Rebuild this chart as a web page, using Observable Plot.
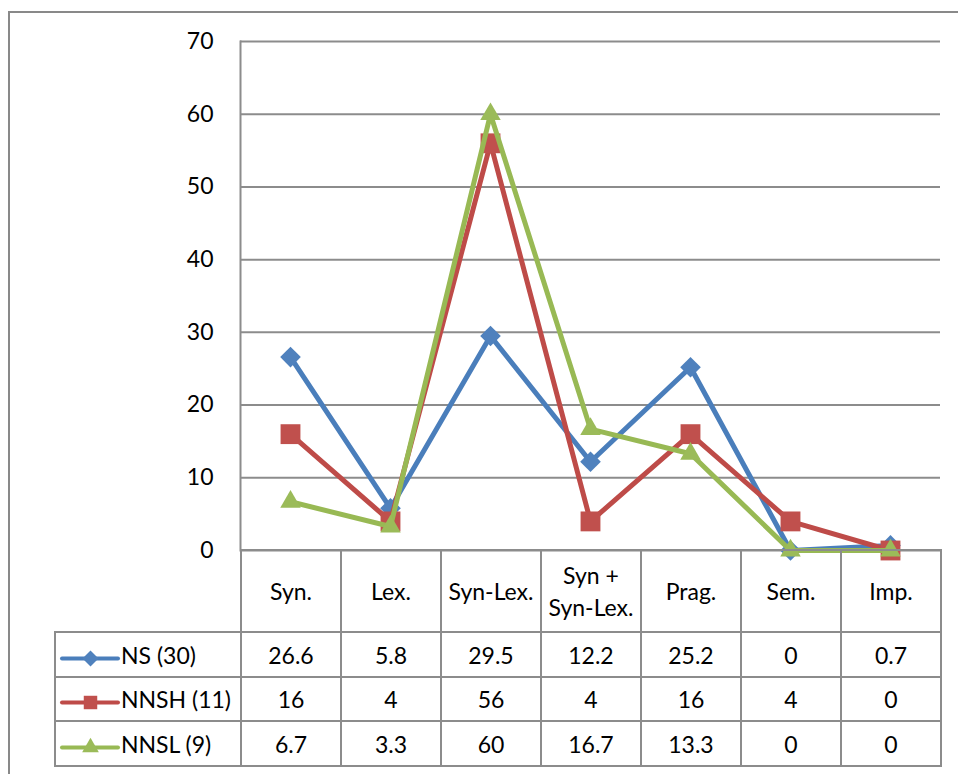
<!DOCTYPE html>
<html>
<head>
<meta charset="utf-8">
<script src="https://cdn.jsdelivr.net/npm/d3@7"></script>
<script src="https://cdn.jsdelivr.net/npm/@observablehq/plot@0.6"></script>
<style>
  html, body { margin: 0; padding: 0; background: #fff; }
  #wrap { position: relative; width: 958px; height: 774px; overflow: hidden; background: #fff; font-family: Lato, "Open Sans", sans-serif; }
  #chart { position: absolute; left: 0; top: 0; }
  #frame { position: absolute; left: 8px; top: 11px; width: 1200px; height: 1200px;
           border-left: 2px solid #898989; border-top: 2px solid #898989; pointer-events: none; }
  #table { position: absolute; border-collapse: collapse; table-layout: fixed; font-size: 23px; color: #000; }
  #table td { border: 2px solid #8c8c8c; text-align: center; padding: 0; white-space: pre-line; line-height: 32px; }
  #table td.blank { border-left: none; border-top: none; }
  #table td.series { text-align: left; padding-left: 6px; white-space: nowrap; }
  #table td.series svg { display: inline-block; vertical-align: middle; margin-right: 3px; }
</style>
</head>
<body>
<div id="wrap">
  <div id="chart"></div>
  <div id="frame"></div>
</div>
<script>
// Error categories (x axis / table columns)
const categories = ["Syn.", "Lex.", "Syn-Lex.", "Syn +\nSyn-Lex.", "Prag.", "Sem.", "Imp."];

// Series names
const seriesNames = ["NS (30)", "NNSH (11)", "NNSL (9)"];

// Percentages per category
const nsValues   = [26.6, 5.8, 29.5, 12.2, 25.2, 0, 0.7];
const nnshValues = [16, 4, 56, 4, 16, 4, 0];
const nnslValues = [6.7, 3.3, 60, 16.7, 13.3, 0, 0];

// Y axis ticks
const yTicks = [0, 10, 20, 30, 40, 50, 60, 70];

const seriesValues = [nsValues, nnshValues, nnslValues];
const lineColors   = ["#4a7ebb", "#be4b48", "#98b954"];
const markColors   = ["#4f81bd", "#c0504d", "#9bbb59"];
const symbols      = ["diamond2", "square", "triangle"];
const symbolR      = [9.3, 11.2, 7.6];
const keySymbolR   = [7.2, 7.6, 6.2];

const series = seriesNames.map((name, s) => ({
  name,
  lineColor: lineColors[s],
  markColor: markColors[s],
  symbol: symbols[s],
  r: symbolR[s],
  keyR: keySymbolR[s],
  rows: categories.map((category, i) => ({category, value: seriesValues[s][i]}))
}));

const gridColor = "#8c8c8c";

const chart = Plot.plot({
  width: 958,
  height: 552,
  marginTop: 41,
  marginLeft: 240,
  marginRight: 18,
  marginBottom: 2,
  style: {background: "transparent", fontFamily: "Lato, 'Open Sans', sans-serif", fontSize: "23px", color: "#000", overflow: "visible"},
  x: {type: "band", domain: categories, padding: 0, axis: null},
  y: {domain: [0, 70], ticks: yTicks, tickSize: 0, tickPadding: 27, label: null},
  marks: [
    Plot.ruleY(yTicks, {stroke: gridColor, strokeWidth: 2, strokeOpacity: 1}),
    Plot.frame({anchor: "left", stroke: gridColor, strokeWidth: 2, strokeOpacity: 1}),
    ...series.flatMap(s => [
      Plot.line(s.rows, {x: "category", y: "value", stroke: s.lineColor, strokeWidth: 5, strokeLinejoin: "round", strokeLinecap: "round"}),
      Plot.dot(s.rows, {x: "category", y: "value", symbol: () => s.symbol, r: s.r, fill: s.markColor, stroke: "none"})
    ])
  ]
});
document.getElementById("chart").append(chart);

// Data table under the plot, columns aligned with the band scale
const xScale = chart.scale("x");
const bandwidth = xScale.bandwidth;
const firstBand = xScale.apply(categories[0]);
const tableLeft = 54;

const table = d3.select("#wrap").append("table").attr("id", "table")
  .style("left", tableLeft + "px")
  .style("top", "549px")
  .style("width", (firstBand - tableLeft + bandwidth * categories.length) + "px");

const colgroup = table.append("colgroup");
colgroup.append("col").style("width", (firstBand - tableLeft) + "px");
categories.forEach(() => colgroup.append("col").style("width", bandwidth + "px"));

const header = table.append("tr").style("height", "82px");
header.append("td").attr("class", "blank");
categories.forEach(c => header.append("td").text(c));

const rowHeights = [45, 44, 45];
series.forEach((s, k) => {
  const tr = table.append("tr").style("height", rowHeights[k] + "px");
  const cell = tr.append("td").attr("class", "series");
  const key = Plot.plot({
    width: 56, height: 22, margin: 0, axis: null,
    x: {domain: [-1, 1]}, y: {domain: [-1, 1]},
    style: {background: "transparent", overflow: "visible"},
    marks: [
      Plot.ruleY([0], {stroke: s.lineColor, strokeWidth: 4, strokeLinecap: "round"}),
      Plot.dot([0], {x: 0, y: 0, symbol: () => s.symbol, r: s.keyR, fill: s.markColor})
    ]
  });
  cell.node().append(key);
  cell.append("span").text(s.name);
  s.rows.forEach(d => tr.append("td").text(String(d.value)));
});
</script>
</body>
</html>
